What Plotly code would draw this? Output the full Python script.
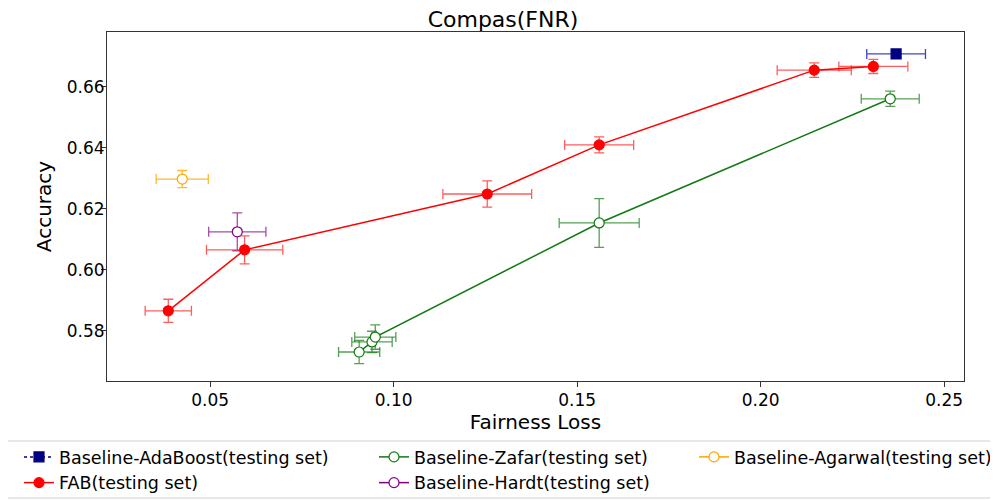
import plotly.graph_objects as go

# ---- data ----
fab_x = [0.0386, 0.0594, 0.1255, 0.1560, 0.2146, 0.2307]
fab_y = [0.5866, 0.6066, 0.6249, 0.6410, 0.6655, 0.6667]
fab_xerr = [0.0063, 0.0104, 0.0121, 0.0094, 0.0101, 0.0094]
fab_yerr = [0.0038, 0.0046, 0.0043, 0.0026, 0.0024, 0.0023]

ada_x = [0.2369]
ada_y = [0.6708]
ada_xerr = [0.0080]
ada_yerr = [0.0012]

zafar_x = [0.0906, 0.0941, 0.0950, 0.1560, 0.2353]
zafar_y = [0.5731, 0.5764, 0.5780, 0.6154, 0.6561]
zafar_xerr = [0.0056, 0.0055, 0.0056, 0.0109, 0.0079]
zafar_yerr = [0.0038, 0.0035, 0.0040, 0.0080, 0.0025]

hardt_x = [0.0574]
hardt_y = [0.6125]
hardt_xerr = [0.0078]
hardt_yerr = [0.0062]

agarwal_x = [0.0424]
agarwal_y = [0.6298]
agarwal_xerr = [0.0071]
agarwal_yerr = [0.0028]

x_ticks = [0.05, 0.10, 0.15, 0.20, 0.25]
y_ticks = [0.58, 0.60, 0.62, 0.64, 0.66]

FONT = "DejaVu Sans"

# figure is drawn at an 8px page offset; plot area in window pixels: x 107..964, y 32..381
W, H = 990, 492
ML, MR, MT, MB = 99, 34, 24, 119
PW = W - ML - MR
PH = H - MT - MB


def px_x(px):
    return (px - 8 - ML) / PW


def px_y(py):
    return (H - MB + 8 - py) / PH


def series(name, x, y, xe, ye, color, ecolor, symbol, fill, dash, legend, lw=1.5):
    return go.Scatter(
        x=x, y=y, name=name, mode="lines+markers", legend=legend,
        line=dict(color=color, width=lw, dash=dash),
        marker=dict(symbol=symbol, size=10, color=fill,
                    line=dict(color=color, width=1.2)),
        error_x=dict(type="data", array=xe, color=ecolor, thickness=1.3, width=5),
        error_y=dict(type="data", array=ye, color=ecolor, thickness=1.3, width=5),
    )


fig = go.Figure()
fig.add_trace(series("Baseline-Zafar(testing set)", zafar_x, zafar_y, zafar_xerr, zafar_yerr,
                     "#117a11", "rgba(30,128,30,0.75)", "circle", "white", "solid", "legend2"))
fig.add_trace(series("Baseline-Hardt(testing set)", hardt_x, hardt_y, hardt_xerr, hardt_yerr,
                     "#800080", "rgba(128,0,128,0.7)", "circle", "white", "solid", "legend2"))
fig.add_trace(series("Baseline-Agarwal(testing set)", agarwal_x, agarwal_y, agarwal_xerr, agarwal_yerr,
                     "#ffa500", "rgba(255,165,0,0.8)", "circle", "white", "solid", "legend3"))
fig.add_trace(series("FAB(testing set)", fab_x, fab_y, fab_xerr, fab_yerr,
                     "#ff0000", "rgba(255,40,40,0.75)", "circle", "#ff0000", "solid", "legend"))
fig.add_trace(series("Baseline-AdaBoost(testing set)", ada_x, ada_y, ada_xerr, ada_yerr,
                     "#000080", "rgba(0,0,190,0.75)", "square", "#000080", "dot", "legend"))
fig.data[3].legendrank = 2
fig.data[4].legendrank = 1

axis_common = dict(showline=True, linecolor="#333333", linewidth=1, mirror=True,
                   ticks="outside", ticklen=5, tickcolor="#333333", showgrid=False,
                   zeroline=False, tickfont=dict(family=FONT, size=17, color="black"),
                   tickformat=".2f")

leg_common = dict(orientation="v", xanchor="left", yanchor="top", y=px_y(439),
                  borderwidth=0, bgcolor="rgba(0,0,0,0)",
                  font=dict(family=FONT, size=17.5, color="black"), tracegroupgap=0)

fig.update_layout(
    width=W, height=H,
    margin=dict(l=ML, r=MR, t=MT, b=MB, autoexpand=False),
    paper_bgcolor="white", plot_bgcolor="white",
    title=dict(text="Compas(FNR)", x=px_x(535.5), xanchor="center", y=0.978, yanchor="middle",
               font=dict(family=FONT, size=22, color="black")),
    xaxis=dict(axis_common, range=[0.0219, 0.2554], tickvals=x_ticks, ticklabelstandoff=-1,
               title=dict(text="Fairness Loss", font=dict(family=FONT, size=20, color="black"),
                          standoff=3)),
    yaxis=dict(axis_common, range=[0.5636, 0.678], tickvals=y_ticks, ticklabelstandoff=-7,
               title=dict(text="Accuracy", font=dict(family=FONT, size=20, color="black"),
                          standoff=9)),
    legend=dict(leg_common, x=px_x(19)),
    legend2=dict(leg_common, x=px_x(374)),
    legend3=dict(leg_common, x=px_x(694)),
    shapes=[dict(type="rect", xref="paper", yref="paper",
                 x0=px_x(4), x1=px_x(997), y0=px_y(441), y1=px_y(498),
                 line=dict(color="#d0d0d0", width=1), fillcolor="rgba(0,0,0,0)")],
    showlegend=True,
)

fig.write_html("out.html")
